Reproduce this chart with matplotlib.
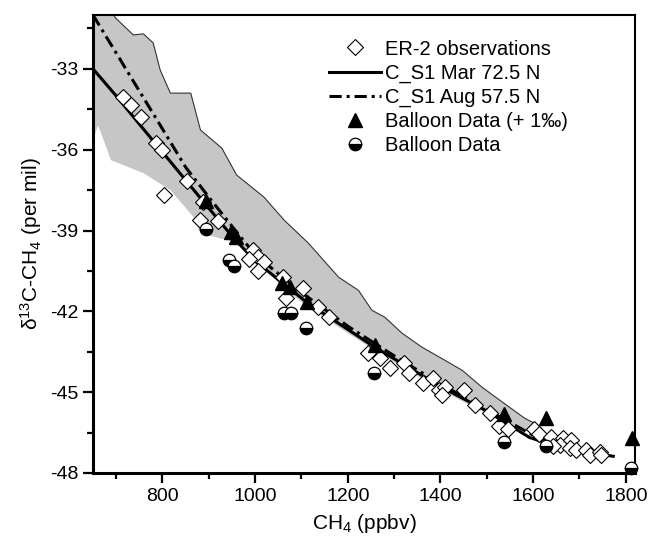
import matplotlib
matplotlib.use('Agg')
import matplotlib.pyplot as plt
from matplotlib.ticker import MultipleLocator
import numpy as np

plt.rcParams['font.family'] = ['Liberation Sans', 'DejaVu Sans']
plt.rcParams['mathtext.default'] = 'regular'
plt.rcParams['axes.unicode_minus'] = False

# ER-2 observations (CH4 ppbv, d13C per mil)
er2_ch4 = [715, 733, 754, 787, 798, 804, 854, 882, 887, 919, 995, 1006, 987, 1019, 1006,
           1060, 1104, 1067, 1136, 1160, 1244, 1269, 1292, 1322, 1333, 1363, 1384, 1397,
           1410, 1403, 1451, 1475, 1506, 1527, 1545, 1601, 1612, 1638, 1664, 1658, 1681,
           1679, 1692, 1714, 1723, 1745, 1747, 1642]
er2_d13c = [-34.06, -34.34, -34.8, -35.76, -36.0, -37.69, -37.15, -38.6, -37.95, -38.65,
            -39.73, -39.99, -40.07, -40.17, -40.5, -40.73, -41.12, -41.5, -41.85, -42.22,
            -43.54, -43.72, -44.09, -43.91, -44.28, -44.67, -44.47, -44.93, -44.82, -45.1,
            -44.93, -45.49, -45.78, -46.25, -46.35, -46.35, -46.55, -46.65, -46.71, -46.97,
            -46.79, -47.08, -47.16, -47.16, -47.34, -47.23, -47.34, -47.0]

# model curves
mar_ch4 = [650, 700, 750, 800, 850, 900, 950, 1000, 1050, 1114, 1200, 1258, 1300, 1403,
           1500, 1592, 1658, 1700, 1773]
mar_d13c = [-33.0, -34.0, -35.05, -36.09, -37.13, -38.17, -39.21, -40.13, -40.82, -41.7,
            -42.67, -43.33, -43.76, -44.82, -45.7, -46.68, -47.05, -47.18, -47.38]

aug_ch4 = [650, 700, 750, 800, 850, 900, 950, 1000, 1100, 1200, 1300, 1400, 1500, 1600,
           1700, 1760]
aug_d13c = [-31.0, -32.41, -33.82, -35.23, -36.65, -37.76, -38.84, -39.9, -41.3, -42.55,
            -43.65, -44.7, -45.65, -46.6, -47.15, -47.35]

# balloon data
bal_up_ch4 = [893, 947, 958, 1058, 1075, 1112, 1258, 1538, 1627, 1814]
bal_up_d13c = [-37.9, -39.05, -39.25, -40.95, -41.1, -41.65, -43.25, -45.8, -45.95, -46.7]

bal_ch4 = [895, 943, 954, 1063, 1078, 1110, 1256, 1538, 1627, 1812]
bal_d13c = [-38.95, -40.1, -40.3, -42.05, -42.05, -42.6, -44.3, -46.85, -47.0, -47.8]

# model range (shaded band)
band_up_ch4 = [650, 698, 737, 759, 780, 795, 817, 861, 882, 928, 960, 1019, 1063, 1115,
               1180, 1223, 1252, 1280, 1317, 1360, 1410, 1447, 1490, 1549, 1582, 1599]
band_up_d13c = [-29.5, -31.1, -31.74, -31.7, -32.04, -33.04, -33.9, -33.9, -35.27, -35.94,
                -36.94, -37.76, -38.62, -39.47, -40.73, -41.22, -41.96, -42.22, -42.81,
                -43.33, -43.82, -44.19, -44.82, -45.56, -45.97, -46.12]
band_lo_ch4 = [650, 661, 689, 759, 817, 867, 882, 941, 984, 1050, 1114, 1258, 1403, 1500,
               1562, 1599]
band_lo_d13c = [-35.64, -35.09, -36.39, -36.87, -37.5, -38.5, -39.1, -39.36, -39.73,
                -40.95, -41.85, -43.45, -44.95, -45.8, -46.35, -46.49]

fig = plt.figure(figsize=(6.48, 5.41), dpi=100)
ax = fig.add_axes([0.1435, 0.1257, 0.8365, 0.8466])

poly_x = band_up_ch4 + band_lo_ch4[::-1]
poly_y = band_up_d13c + band_lo_d13c[::-1]
ax.fill(poly_x, poly_y, color='#c6c6c6', lw=0, zorder=1)
ax.plot(band_up_ch4, band_up_d13c, color='#333333', lw=0.8, zorder=1.5)

ax.plot(mar_ch4, mar_d13c, color='black', lw=2.2, zorder=2, label='C_S1 Mar 72.5 N')
ax.plot(aug_ch4, aug_d13c, color='black', lw=2.2, zorder=2,
        dashes=(4, 1.6, 1, 1.6), label='C_S1 Aug 57.5 N')

ax.plot(er2_ch4, er2_d13c, ls='none', marker='D', ms=8.3, mfc='white', mec='black',
        mew=0.8, zorder=3, label='ER-2 observations')
ax.plot(bal_up_ch4, bal_up_d13c, ls='none', marker='^', ms=9.5, color='black', zorder=4,
        clip_on=False, label='Balloon Data (+ 1‰)')
ax.plot(bal_ch4, bal_d13c, ls='none', marker='o', ms=9, fillstyle='bottom',
        mfc='black', mfcalt='white', mec='black', mew=0.9, zorder=4, clip_on=False,
        label='Balloon Data')

ax.set_xlim(650, 1820)
ax.set_ylim(-48, -31)
ax.xaxis.set_major_locator(MultipleLocator(200))
ax.xaxis.set_minor_locator(MultipleLocator(100))
ax.yaxis.set_major_locator(MultipleLocator(3))
ax.yaxis.set_minor_locator(MultipleLocator(1.5))
ax.tick_params(which='both', direction='out', top=False, right=False, labelsize=14,
               width=1.6)
ax.tick_params(which='major', length=7)
ax.tick_params(which='minor', length=4)
for side in ['left', 'bottom']:
    ax.spines[side].set_linewidth(2.2)
for side in ['top', 'right']:
    ax.spines[side].set_linewidth(1.5)

ax.set_xlabel('CH$_4$ (ppbv)', fontsize=15, labelpad=5)
ax.set_ylabel(r'$\delta^{13}$C-CH$_4$ (per mil)', fontsize=15, labelpad=4)

handles, labels = ax.get_legend_handles_labels()
order = [2, 0, 1, 3, 4]
ax.legend([handles[i] for i in order], [labels[i] for i in order],
          loc='upper left', bbox_to_anchor=(0.402, 0.986), frameon=False, fontsize=14.5,
          handlelength=2.6, handletextpad=0.2, labelspacing=0.25, numpoints=1)

fig.savefig('out.png', dpi=100)
